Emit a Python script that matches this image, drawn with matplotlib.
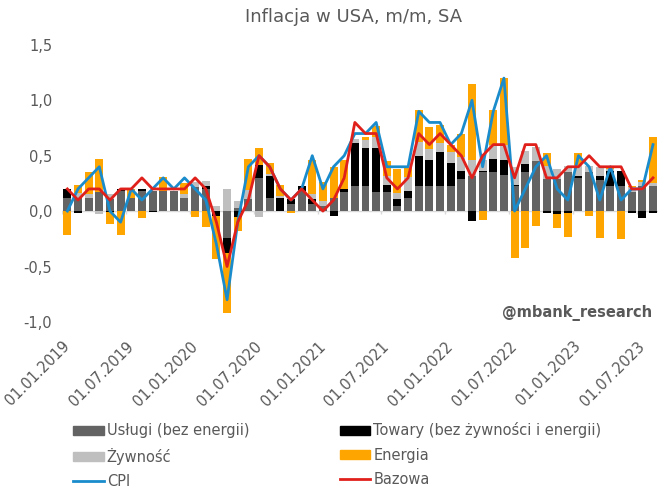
import numpy as np
import matplotlib
matplotlib.use("Agg")
import matplotlib.pyplot as plt
from matplotlib.patches import Patch
from matplotlib.lines import Line2D

# miesiace 01.2019 - 08.2023
etykiety = ['01.01.2019', '01.07.2019', '01.01.2020', '01.07.2020', '01.01.2021',
            '01.07.2021', '01.01.2022', '01.07.2022', '01.01.2023', '01.07.2023']

uslugi = [0.12, 0.12, 0.12, 0.17, 0.11, 0.18, 0.12, 0.18, 0.18, 0.18, 0.18, 0.12,
          0.22, 0.20, 0.00, -0.24, 0.03, 0.11, 0.30, 0.12, 0.00, 0.06, 0.18, 0.06,
          0.05, 0.12, 0.17, 0.23, 0.23, 0.17, 0.17, 0.05, 0.12, 0.23, 0.23, 0.23,
          0.23, 0.29, 0.32, 0.35, 0.35, 0.33, 0.23, 0.35, 0.45, 0.29, 0.29, 0.35,
          0.30, 0.35, 0.28, 0.23, 0.23, 0.17, 0.23, 0.23]
towary = [0.08, -0.015, 0.0, 0.0, -0.01, 0.02, 0.0, 0.02, -0.01, 0.0, 0.0, 0.0,
          0.0, 0.03, -0.04, -0.14, -0.05, 0.0, 0.12, 0.20, 0.12, 0.045, 0.045, 0.045,
          0.0, -0.04, 0.03, 0.38, 0.34, 0.40, 0.07, 0.06, 0.06, 0.27, 0.23, 0.30,
          0.20, 0.07, -0.09, 0.015, 0.12, 0.13, 0.01, 0.075, 0.0, -0.02, -0.03, -0.02,
          0.02, 0.0, 0.04, 0.13, 0.13, -0.02, -0.06, -0.015]
zywnosc = [0.0, 0.04, 0.03, -0.03, 0.04, 0.0, 0.0, 0.0, 0.0, 0.0, 0.0, 0.03,
           0.045, 0.045, 0.05, 0.20, 0.06, 0.08, -0.05, 0.015, 0.02, 0.0, 0.0, 0.05,
           0.04, 0.0, 0.0, 0.045, 0.07, 0.10, 0.08, 0.05, 0.13, 0.12, 0.10, 0.08,
           0.10, 0.13, 0.14, 0.10, 0.13, 0.14, 0.16, 0.12, 0.13, 0.12, 0.09, 0.06,
           0.10, 0.06, 0.08, 0.02, 0.0, 0.05, 0.03, 0.025]
energia = [-0.22, 0.08, 0.20, 0.30, -0.11, -0.22, 0.08, -0.06, 0.0, 0.13, 0.0, 0.10,
           -0.05, -0.14, -0.39, -0.54, -0.13, 0.28, 0.15, 0.10, 0.10, -0.02, 0.0, 0.31,
           0.17, 0.28, 0.26, 0.0, 0.03, 0.10, 0.13, 0.22, 0.08, 0.29, 0.20, 0.17,
           0.07, 0.21, 0.69, -0.08, 0.31, 0.60, -0.42, -0.33, -0.13, 0.11, -0.12, -0.21,
           0.10, -0.04, -0.24, 0.02, -0.25, 0.01, 0.02, 0.41]
cpi = [0.0, 0.2, 0.3, 0.4, 0.0, -0.1, 0.2, 0.1, 0.2, 0.3, 0.2, 0.3,
       0.2, 0.1, -0.3, -0.8, -0.1, 0.4, 0.5, 0.4, 0.2, 0.1, 0.2, 0.5,
       0.2, 0.4, 0.5, 0.7, 0.7, 0.8, 0.4, 0.4, 0.4, 0.9, 0.8, 0.8,
       0.6, 0.7, 1.0, 0.4, 0.9, 1.2, 0.0, 0.2, 0.4, 0.5, 0.2, 0.1,
       0.5, 0.4, 0.1, 0.4, 0.1, 0.2, 0.2, 0.6]
bazowa = [0.2, 0.1, 0.2, 0.2, 0.1, 0.2, 0.2, 0.3, 0.2, 0.2, 0.2, 0.2,
          0.3, 0.2, -0.1, -0.5, -0.1, 0.1, 0.5, 0.4, 0.2, 0.1, 0.2, 0.1,
          0.0, 0.1, 0.3, 0.8, 0.7, 0.7, 0.3, 0.2, 0.3, 0.7, 0.6, 0.7,
          0.6, 0.5, 0.3, 0.5, 0.6, 0.6, 0.3, 0.6, 0.6, 0.3, 0.3, 0.4,
          0.4, 0.5, 0.4, 0.4, 0.4, 0.2, 0.2, 0.3]

kolory = {'uslugi': '#636363', 'towary': '#000000', 'zywnosc': '#bfbfbf',
          'energia': '#ffa500', 'cpi': '#1a8ccc', 'bazowa': '#e0201b'}
szary = '#595959'

x = np.arange(len(cpi))

fig = plt.figure(figsize=(6.67, 4.93), dpi=100)
ax = fig.add_axes([0.093, 0.347, 0.894, 0.562])

# slupki skumulowane - dodatnie w gore, ujemne w dol (jak w Excelu)
dol_plus = np.zeros(len(x))
dol_minus = np.zeros(len(x))
for seria, kolor in [(uslugi, kolory['uslugi']), (towary, kolory['towary']),
                     (zywnosc, kolory['zywnosc']), (energia, kolory['energia'])]:
    v = np.array(seria)
    dol = np.where(v >= 0, dol_plus, dol_minus)
    ax.bar(x, v, bottom=dol, width=0.75, color=kolor, zorder=2)
    dol_plus = dol_plus + np.where(v >= 0, v, 0)
    dol_minus = dol_minus + np.where(v < 0, v, 0)

ax.plot(x, cpi, color=kolory['cpi'], lw=2.0, zorder=4)
ax.plot(x, bazowa, color=kolory['bazowa'], lw=2.0, zorder=5)

ax.axhline(0, color='#d9d9d9', lw=1, zorder=1)
pozycje = np.arange(0, len(x), 6) - 0.5
ax.vlines(pozycje, -0.03, 0, color='#d9d9d9', lw=1, zorder=1)

ax.set_xlim(-0.5, len(x) - 0.5)
ax.set_ylim(-1.0, 1.5)
ax.set_yticks(np.arange(-1.0, 1.51, 0.5))
ax.set_yticklabels([f'{t:.1f}'.replace('.', ',') for t in np.arange(-1.0, 1.51, 0.5)])
ax.set_xticks(pozycje)
ax.set_xticklabels(etykiety, rotation=45, ha='right', rotation_mode='anchor')
ax.tick_params(axis='both', length=0, colors=szary, labelsize=10.5)
ax.tick_params(axis='x', pad=12)
ax.tick_params(axis='y', pad=7)
for s in ax.spines.values():
    s.set_visible(False)

fig.text(0.53, 0.965, 'Inflacja w USA, m/m, SA', ha='center', va='center',
         fontsize=13, color=szary)
ax.text(0.99, 0.005, '@mbank_research', transform=ax.transAxes, ha='right',
        va='bottom', fontsize=10.5, fontweight='bold', color=szary)

# kolejnosc wierszami jak w oryginale (matplotlib wypelnia kolumnami)
uchwyty = [Patch(color=kolory['uslugi'], label='Usługi (bez energii)'),
           Patch(color=kolory['zywnosc'], label='Żywność'),
           Line2D([], [], color=kolory['cpi'], lw=2, label='CPI'),
           Patch(color=kolory['towary'], label='Towary (bez żywności i energii)'),
           Patch(color=kolory['energia'], label='Energia'),
           Line2D([], [], color=kolory['bazowa'], lw=2, label='Bazowa')]
leg = fig.legend(handles=uchwyty, ncol=2, loc='upper left',
                 bbox_to_anchor=(0.09, 0.17), frameon=False, fontsize=10.5,
                 handlelength=2.1, handleheight=0.6, handletextpad=0.2,
                 columnspacing=6.2, labelspacing=0.65)
for t in leg.get_texts():
    t.set_color(szary)

fig.savefig('out.png', dpi=100)
